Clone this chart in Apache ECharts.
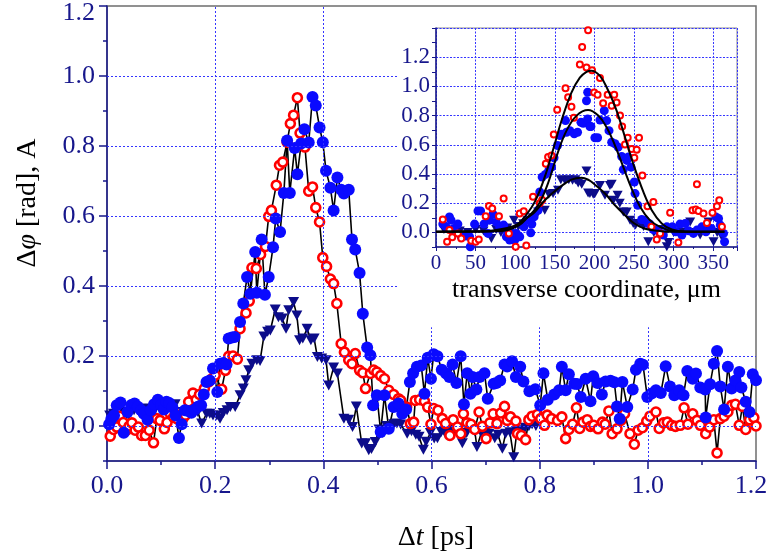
<!DOCTYPE html>
<html>
<head>
<meta charset="utf-8">
<script src="https://cdn.jsdelivr.net/npm/echarts@6/dist/echarts.min.js"></script>
<style>
html, body { margin: 0; padding: 0; background: #ffffff; }
#chart { width: 769px; height: 557px; }
</style>
</head>
<body>
<div id="chart"></div>
<script>
// ---- main panel: phase shift / amplitude vs delay ----
const delayTicks = [0.0, 0.2, 0.4, 0.6, 0.8, 1.0, 1.2];
const phaseTicks = [0.0, 0.2, 0.4, 0.6, 0.8, 1.0, 1.2];

// [delay ps, value] — open red circles
const redPoints = [[0.006,-0.029],[0.012,-0.01],[0.018,-0.003],[0.023,0.028],[0.03,0.01],[0.036,-0.012],[0.041,0.0],[0.046,0.009],[0.052,-0.012],[0.058,-0.003],[0.064,-0.027],[0.071,-0.027],[0.078,-0.012],[0.086,-0.048],[0.092,0.021],[0.098,0.016],[0.106,-0.008],[0.111,0.01],[0.117,0.035],[0.123,0.025],[0.129,0.021],[0.135,0.031],[0.14,0.02],[0.145,0.031],[0.151,0.069],[0.159,0.094],[0.165,0.075],[0.171,0.09],[0.18,0.107],[0.188,0.126],[0.194,0.135],[0.2,0.145],[0.212,0.105],[0.219,0.159],[0.225,0.199],[0.233,0.2],[0.241,0.191],[0.246,0.278],[0.257,0.323],[0.263,0.357],[0.268,0.452],[0.276,0.45],[0.284,0.49],[0.293,0.513],[0.299,0.599],[0.304,0.616],[0.313,0.688],[0.319,0.745],[0.325,0.754],[0.333,0.811],[0.339,0.864],[0.345,0.888],[0.352,0.938],[0.357,0.837],[0.366,0.797],[0.373,0.671],[0.38,0.683],[0.386,0.624],[0.393,0.583],[0.399,0.481],[0.406,0.456],[0.413,0.42],[0.419,0.407],[0.425,0.35],[0.433,0.235],[0.439,0.211],[0.447,0.188],[0.453,0.178],[0.459,0.207],[0.467,0.159],[0.473,0.152],[0.478,0.107],[0.487,0.15],[0.493,0.16],[0.499,0.154],[0.506,0.144],[0.513,0.135],[0.521,0.102],[0.53,0.09],[0.539,0.078],[0.543,0.073],[0.554,0.054],[0.561,0.007],[0.567,0.011],[0.57,0.073],[0.578,0.075],[0.587,0.071],[0.593,0.054],[0.599,0.005],[0.604,0.05],[0.612,0.045],[0.62,0.021],[0.626,0.007],[0.634,-0.027],[0.64,0.018],[0.648,-0.003],[0.654,-0.022],[0.659,0.035],[0.666,0.009],[0.673,0.005],[0.68,-0.01],[0.688,0.04],[0.694,-0.001],[0.701,-0.036],[0.708,0.009],[0.714,0.035],[0.721,0.007],[0.728,0.037],[0.735,0.056],[0.74,0.016],[0.746,0.026],[0.756,0.014],[0.759,-0.022],[0.766,-0.027],[0.774,-0.039],[0.78,0.018],[0.786,0.028],[0.796,0.033],[0.802,0.021],[0.809,0.002],[0.814,0.031],[0.822,0.021],[0.833,0.016],[0.841,0.026],[0.848,-0.036],[0.854,-0.01],[0.861,0.005],[0.868,0.052],[0.874,-0.007],[0.88,0.011],[0.888,0.018],[0.894,-0.001],[0.9,0.002],[0.908,-0.008],[0.916,0.011],[0.921,0.005],[0.928,0.043],[0.934,-0.022],[0.943,-0.008],[0.95,0.016],[0.957,0.035],[0.967,-0.022],[0.975,-0.052],[0.982,-0.012],[0.99,-0.005],[0.998,0.014],[1.004,0.028],[1.015,0.04],[1.021,-0.007],[1.029,0.009],[1.036,0.011],[1.044,0.002],[1.051,-0.001],[1.06,0.002],[1.067,0.052],[1.074,0.005],[1.083,0.035],[1.091,0.016],[1.097,0.002],[1.107,-0.022],[1.114,-0.003],[1.122,0.018],[1.128,-0.077],[1.134,0.021],[1.141,0.028],[1.148,0.04],[1.155,0.059],[1.162,0.062],[1.169,0.002],[1.175,0.056],[1.181,-0.01],[1.188,0.018],[1.196,0.024],[1.2,0.0]];

// [delay ps, value] — filled blue circles
const bluePoints = [[0.004,0.005],[0.008,0.02],[0.013,0.03],[0.018,0.059],[0.025,0.067],[0.031,-0.019],[0.038,0.04],[0.045,0.06],[0.051,0.064],[0.057,0.055],[0.063,0.045],[0.068,0.035],[0.075,0.018],[0.081,0.045],[0.087,0.062],[0.094,0.075],[0.1,0.06],[0.105,0.047],[0.11,0.069],[0.115,0.066],[0.121,0.053],[0.127,0.03],[0.133,-0.034],[0.138,0.005],[0.144,0.045],[0.15,0.043],[0.156,0.038],[0.162,0.047],[0.168,0.055],[0.174,0.059],[0.179,0.09],[0.184,0.126],[0.19,0.13],[0.196,0.164],[0.204,0.097],[0.209,0.178],[0.215,0.18],[0.221,0.176],[0.225,0.25],[0.231,0.253],[0.236,0.254],[0.246,0.297],[0.252,0.35],[0.259,0.426],[0.265,0.378],[0.274,0.497],[0.277,0.381],[0.286,0.533],[0.292,0.375],[0.299,0.426],[0.307,0.511],[0.312,0.593],[0.32,0.554],[0.327,0.666],[0.333,0.816],[0.338,0.666],[0.347,0.794],[0.352,0.719],[0.359,0.807],[0.365,0.848],[0.373,0.81],[0.38,0.94],[0.386,0.916],[0.393,0.853],[0.399,0.811],[0.405,0.729],[0.413,0.681],[0.419,0.616],[0.426,0.71],[0.433,0.675],[0.438,0.664],[0.447,0.675],[0.453,0.533],[0.459,0.504],[0.467,0.437],[0.473,0.321],[0.481,0.224],[0.487,0.202],[0.492,0.059],[0.499,0.088],[0.506,-0.017],[0.513,0.088],[0.521,-0.008],[0.53,0.054],[0.539,0.064],[0.546,0.035],[0.553,0.047],[0.56,0.126],[0.566,0.151],[0.573,0.169],[0.581,0.173],[0.587,0.092],[0.593,0.195],[0.599,0.135],[0.604,0.205],[0.611,0.199],[0.619,0.161],[0.627,0.15],[0.633,0.14],[0.639,0.176],[0.646,0.123],[0.654,0.199],[0.66,0.062],[0.666,0.151],[0.672,0.092],[0.676,0.14],[0.683,0.104],[0.689,0.14],[0.698,0.151],[0.704,0.078],[0.715,0.121],[0.72,0.123],[0.727,0.13],[0.735,0.176],[0.74,0.17],[0.749,0.185],[0.756,0.14],[0.764,0.169],[0.77,0.127],[0.781,0.099],[0.792,0.105],[0.801,0.059],[0.807,0.151],[0.815,0.075],[0.827,0.09],[0.836,0.102],[0.841,0.169],[0.848,0.102],[0.854,0.148],[0.864,0.121],[0.869,0.12],[0.876,0.083],[0.885,0.135],[0.894,0.071],[0.899,0.142],[0.907,0.123],[0.915,0.09],[0.922,0.127],[0.931,0.129],[0.938,0.125],[0.943,0.056],[0.948,0.021],[0.953,0.126],[0.962,0.054],[0.972,0.104],[0.978,0.161],[0.986,0.178],[0.991,0.175],[0.999,0.083],[1.007,0.093],[1.015,0.102],[1.024,0.094],[1.033,0.171],[1.041,0.113],[1.049,0.088],[1.058,0.102],[1.066,0.088],[1.073,0.157],[1.083,0.135],[1.089,0.15],[1.097,0.11],[1.106,0.104],[1.107,0.024],[1.115,0.119],[1.122,0.178],[1.128,0.214],[1.134,0.113],[1.141,0.047],[1.148,0.169],[1.155,0.107],[1.162,0.13],[1.169,0.154],[1.173,0.11],[1.181,0.069],[1.188,0.04],[1.194,0.148],[1.2,0.131]];

// [delay ps, value] — navy down-triangles
const navyPoints = [[0.005,0.03],[0.012,0.035],[0.02,0.02],[0.03,0.04],[0.04,0.03],[0.05,0.045],[0.06,0.04],[0.07,0.05],[0.08,0.04],[0.09,0.05],[0.1,0.045],[0.11,0.05],[0.12,0.055],[0.126,0.062],[0.13,0.021],[0.14,0.04],[0.15,0.03],[0.16,0.05],[0.168,0.04],[0.175,0.007],[0.184,0.035],[0.19,0.035],[0.196,0.03],[0.203,0.03],[0.209,0.021],[0.215,0.037],[0.222,0.045],[0.228,0.054],[0.237,0.054],[0.246,0.088],[0.252,0.107],[0.257,0.131],[0.262,0.159],[0.268,0.178],[0.277,0.188],[0.283,0.186],[0.29,0.256],[0.297,0.269],[0.302,0.273],[0.311,0.333],[0.317,0.311],[0.324,0.307],[0.331,0.278],[0.336,0.331],[0.345,0.354],[0.351,0.316],[0.356,0.245],[0.362,0.25],[0.37,0.278],[0.377,0.245],[0.383,0.25],[0.389,0.197],[0.397,0.193],[0.405,0.188],[0.41,0.116],[0.419,0.167],[0.426,0.15],[0.438,0.021],[0.447,0.018],[0.454,-0.003],[0.461,0.056],[0.471,-0.05],[0.478,-0.049],[0.484,-0.069],[0.489,-0.066],[0.496,-0.046],[0.503,-0.01],[0.51,-0.02],[0.517,0.0],[0.525,-0.005],[0.53,0.005],[0.536,0.007],[0.543,0.004],[0.555,-0.022],[0.563,-0.015],[0.571,-0.025],[0.577,-0.031],[0.585,-0.068],[0.59,-0.045],[0.598,-0.02],[0.605,-0.036],[0.611,-0.035],[0.618,-0.017],[0.625,-0.02],[0.633,-0.017],[0.641,-0.012],[0.648,-0.02],[0.657,-0.049],[0.665,-0.02],[0.673,-0.005],[0.68,-0.015],[0.684,-0.06],[0.692,-0.02],[0.7,-0.015],[0.706,-0.022],[0.717,-0.035],[0.723,-0.025],[0.731,-0.065],[0.737,-0.022],[0.745,-0.018],[0.752,-0.089],[0.758,-0.015],[0.766,-0.012],[0.773,-0.005],[0.78,-0.001],[0.786,0.005],[0.793,0.0]];

// ---- inset: transverse profiles ----
const profileTicks = [0, 50, 100, 150, 200, 250, 300, 350];
const profileValueTicks = [0.0, 0.2, 0.4, 0.6, 0.8, 1.0, 1.2];

// [µm, value]
const redProfile = [[8.6,0.089],[14,-0.064],[17,0.016],[20.5,-0.034],[27.6,-0.007],[31.9,-0.041],[44.5,-0.057],[50,-0.064],[54,-0.048],[62.7,0.111],[66.9,0.18],[71,0.164],[79.5,0.111],[85.4,0.232],[92,-0.007],[100.6,-0.098],[105.7,0.13],[110.8,0.145],[114,-0.09],[122.5,0.245],[131,0.2],[134,0.222],[138.6,0.47],[141.5,0.516],[145.8,0.527],[148.7,0.67],[153,0.84],[163.5,0.988],[166.8,0.926],[171,0.861],[174,0.786],[181.6,1.15],[184.5,1.27],[190,1.13],[192,1.384],[197,1.11],[199.7,0.958],[204,0.943],[207,1.057],[211,0.884],[216.7,0.943],[221.8,0.868],[225,0.943],[228,0.89],[232.3,0.8],[235,0.725],[238.6,0.602],[242,0.648],[247,0.572],[250.4,0.511],[253.4,0.566],[256.3,0.648],[260.5,0.39],[267,0.179],[272,0.038],[274.4,0.209],[278.7,-0.048],[283,-0.007],[295.6,0.134],[306,-0.07],[323.8,0.152],[328,0.157],[329.4,0.329],[331.4,0.147],[337.7,0.13],[342,0.065],[349,0.134],[354.7,0.179],[357.6,0.22],[361,0.038]];

const blueProfile = [[8.6,0.057],[12.9,0.038],[17,0.106],[19,0.084],[22.5,0.027],[27.6,0.057],[31.9,-0.03],[37,-0.025],[42.4,-0.03],[43.3,-0.098],[48.7,0.057],[53,0.147],[56.3,0.147],[60.5,0.057],[65.6,-0.007],[67.7,0.084],[71.9,0.125],[76,0.07],[80.4,0.038],[85.4,0.05],[88.9,-0.03],[90.9,-0.007],[93,-0.052],[97.2,-0.007],[99.4,-0.052],[101.5,-0.007],[105.7,-0.03],[111,0.038],[114,0.084],[119.6,-0.003],[121,0.057],[123.8,0.106],[128.9,0.152],[131,0.277],[134,0.379],[138.2,0.397],[142.4,0.425],[145.8,0.447],[149,0.511],[153.4,0.595],[156.3,0.663],[158.4,0.672],[163.5,0.766],[164.8,0.686],[169,0.697],[174.5,0.675],[178.7,0.686],[183,0.754],[185.8,0.747],[190,0.902],[191.4,0.777],[191.5,0.96],[194.3,0.725],[195.6,0.725],[200.6,0.648],[204,0.648],[207,0.77],[212.4,0.834],[215.4,0.766],[218.4,0.697],[221.8,0.618],[226,0.607],[230,0.584],[234.4,0.52],[236.5,0.43],[240.8,0.493],[242.8,0.516],[246.2,0.447],[250.4,0.345],[251.3,0.266],[254.7,0.186],[259.7,0.088],[264,0.084],[268,0.061],[270,0.057],[274.4,0.02],[278.7,0.016],[283,-0.007],[287,-0.018],[291.4,0.038],[298.5,0.038],[302.8,0.004],[308,0.057],[310.4,-0.018],[314.6,0.061],[318.7,0.011],[325,-0.007],[329.4,0.016],[335.7,0.038],[340.8,0.004],[347.5,0.027],[353.4,0.106],[356.7,0.095],[358.9,0.05],[363,-0.007],[364.3,-0.064]];

const navyProfile = [[10,0.02],[20,0.0],[30,0.01],[40,0.0],[50,0.02],[60,0.01],[69.9,-0.041],[76,0.02],[82,0.0],[90,0.03],[98.5,0.084],[104,0.04],[110,0.06],[116,0.084],[122,0.1],[128.9,0.14],[137.3,0.152],[142.4,0.261],[147.8,0.266],[154,0.288],[157.6,0.361],[162.7,0.357],[167.7,0.361],[172.4,0.357],[176,0.36],[179.5,0.338],[184,0.33],[190,0.42],[192,0.27],[194.3,0.266],[198.5,0.261],[200.6,0.266],[207,0.322],[213.3,0.254],[219.6,0.322],[221.8,0.329],[223.8,0.22],[229.3,0.254],[232,0.2],[236.5,0.14],[240.8,0.14],[245,0.084],[249,0.061],[252,0.05],[257.6,0.061],[262,0.04],[268,-0.064],[275,0.0],[283,0.02],[291.4,-0.098],[293.4,-0.07],[300,0.0],[310,0.0],[320.9,0.072],[327,0.0],[333.5,-0.018],[338,0.02],[344,0.072],[350.4,-0.064],[355,0.0],[361,-0.03]];

// fitted profile curves, read point by point
const fitHigh = [[0,0.005],[50,0.006],[80,0.01],[91,0.016],[103.5,0.057],[112,0.106],[124.7,0.209],[137.3,0.38],[150,0.607],[158.5,0.766],[171,0.958],[181.6,1.06],[190,1.1],[196,1.108],[207,1.072],[217.5,0.97],[228,0.834],[238.6,0.652],[249,0.47],[261.8,0.277],[272.4,0.152],[285,0.061],[297.7,0.02],[314.6,0.006],[364,0.004]];
const fitMid = [[0,0.005],[60,0.006],[90,0.018],[105,0.05],[115,0.1],[128.9,0.186],[141.5,0.338],[154,0.55],[164.8,0.697],[177.5,0.8],[192,0.838],[204.8,0.8],[215.4,0.72],[226,0.595],[236.5,0.447],[247,0.3],[257.6,0.175],[270,0.084],[283,0.038],[297.7,0.01],[320,0.005],[364,0.004]];
const fitLow = [[0,0.005],[60,0.008],[90,0.03],[105,0.06],[115,0.1],[124.7,0.14],[137.3,0.22],[154,0.3],[171,0.361],[183.8,0.375],[193,0.358],[201,0.325],[213.3,0.266],[226,0.186],[238.6,0.118],[250.4,0.061],[263,0.027],[280.8,0.011],[297.7,0.004],[364,0.004]];

const SERIF = '"Liberation Serif", "DejaVu Serif", serif';
const NAVY = '#17178c';
const GRIDBLUE = '#3434ff';
const FRAME = '#6e6e6e';

// plot rectangles
const MAIN = { left: 107, top: 6, width: 649, height: 455 };
const INSET = { left: 436, top: 28, width: 301, height: 219 };
// where the inset block starts, in main-panel units (its left edge and lower edge)
const insetBlockDelay = 0.539;
const insetBlockPhase = 0.282;

const chart = echarts.init(document.getElementById('chart'), null, { renderer: 'canvas' });

function tenths(v) { return Math.round(v * 10); }

// the end labels of the main axes sit a little inside the frame
function delayLabel(v) {
  const k = delayTicks.findIndex(t => Math.abs(t - v) < 1e-6);
  if (k < 0) return '';
  return k === delayTicks.length - 1 ? '{edge|' + delayTicks[k].toFixed(1) + '}' : delayTicks[k].toFixed(1);
}
function phaseLabel(v) {
  const k = phaseTicks.findIndex(t => Math.abs(t - v) < 1e-6);
  if (k < 0) return '';
  return k === phaseTicks.length - 1 ? '{edge|' + phaseTicks[k].toFixed(1) + '}' : phaseTicks[k].toFixed(1);
}
function profileValueLabel(v) {
  const k = profileValueTicks.findIndex(t => Math.abs(t - v) < 1e-6);
  return k < 0 ? '' : profileValueTicks[k].toFixed(1);
}

// main-panel grid lines, stopped where the inset block sits
const yMin = -0.1;
const gridSegments = [];
delayTicks.slice(1, -1).forEach(t => {
  const top = t < insetBlockDelay ? phaseTicks[phaseTicks.length - 1] : insetBlockPhase;
  gridSegments.push([{ coord: [t, yMin] }, { coord: [t, top] }]);
});
phaseTicks.slice(0, -1).forEach(v => {
  const right = v < insetBlockPhase ? delayTicks[delayTicks.length - 1] : insetBlockDelay;
  gridSegments.push([{ coord: [0, v] }, { coord: [right, v] }]);
});

const option = {
  animation: false,
  backgroundColor: '#ffffff',
  grid: [
    Object.assign({ outerBoundsMode: 'none', containLabel: false, show: true, borderColor: FRAME,
      borderWidth: 1.5, backgroundColor: 'transparent' }, MAIN),
    Object.assign({ outerBoundsMode: 'none', containLabel: false, show: true, borderColor: '#8c8c8c',
      borderWidth: 1, backgroundColor: 'transparent', z: 3 }, INSET)
  ],
  xAxis: [
    {
      gridIndex: 0, type: 'value', min: 0, max: 1.2, interval: 0.2,
      axisLine: { onZero: false, lineStyle: { color: NAVY, width: 1.5 } },
      axisTick: { length: 8, lineStyle: { color: NAVY, width: 1.5 } },
      minorTick: { show: true, splitNumber: 2, length: 4, lineStyle: { color: NAVY, width: 1.5 } },
      axisLabel: { margin: 12, color: NAVY, fontFamily: SERIF, fontSize: 26, formatter: delayLabel,
        rich: { edge: { color: NAVY, fontFamily: SERIF, fontSize: 26, padding: [0, 10, 0, 0] } } },
      splitLine: { show: false }
    },
    {
      gridIndex: 1, type: 'value', min: 0, max: 380, interval: 50, z: 3,
      axisLine: { onZero: false, lineStyle: { color: NAVY, width: 1.5 } },
      axisTick: { length: 4, lineStyle: { color: NAVY, width: 1 } },
      minorTick: { show: true, splitNumber: 2, length: 2, lineStyle: { color: NAVY, width: 1 } },
      axisLabel: { margin: 6, color: NAVY, fontFamily: SERIF, fontSize: 21, showMaxLabel: false,
        formatter: v => profileTicks.indexOf(v) >= 0 ? String(v) : '' },
      splitLine: { show: true, lineStyle: { color: GRIDBLUE, width: 1, type: [2, 1.5] } },
      name: 'transverse coordinate, \u03bcm', nameLocation: 'middle', nameGap: 30,
      nameTextStyle: { color: '#000000', fontFamily: SERIF, fontSize: 26 }
    }
  ],
  yAxis: [
    {
      gridIndex: 0, type: 'value', min: yMin, max: 1.2, interval: 0.1,
      axisLine: { onZero: false, lineStyle: { color: NAVY, width: 1.5 } },
      axisTick: { length: 8, customValues: phaseTicks, lineStyle: { color: NAVY, width: 1.5 } },
      axisLabel: { margin: 12, color: NAVY, fontFamily: SERIF, fontSize: 26, formatter: phaseLabel,
        rich: { edge: { color: NAVY, fontFamily: SERIF, fontSize: 26, padding: [14, 0, 0, 0] } } },
      splitLine: { show: false }
    },
    {
      // short ticks every 0.1 on the left edge
      gridIndex: 0, type: 'value', min: yMin, max: 1.2, interval: 0.1, position: 'left',
      axisLine: { show: false },
      axisTick: { length: 4, lineStyle: { color: NAVY, width: 1.5 } },
      axisLabel: { show: false },
      splitLine: { show: false }
    },
    {
      gridIndex: 1, type: 'value', min: -0.1, max: 1.4, interval: 0.1, z: 3,
      axisLine: { onZero: false, lineStyle: { color: NAVY, width: 1.5 } },
      axisTick: { length: 4, lineStyle: { color: NAVY, width: 1 } },
      axisLabel: { margin: 6, color: NAVY, fontFamily: SERIF, fontSize: 23, formatter: profileValueLabel },
      splitLine: { show: true, lineStyle: { color: ['rgba(0,0,0,0)', GRIDBLUE], width: 1, type: [2, 1.5] } }
    }
  ],
  graphic: {
    elements: [
      { id: 'xTitle', type: 'text', z: 10, x: 436, y: 538, silent: true,
        style: { text: '{n|\u0394}{i|t}{n| [ps]}', align: 'center', verticalAlign: 'middle',
          rich: { n: { fontFamily: SERIF, fontSize: 28, fill: '#000' }, i: { fontFamily: SERIF, fontSize: 28, fontStyle: 'italic', fill: '#000' } } } },
      { id: 'yTitle', type: 'text', z: 10, x: 28, y: 203, rotation: Math.PI / 2, silent: true,
        style: { text: '{n|\u0394}{i|\u03c6}{n| [rad], A}', align: 'center', verticalAlign: 'middle',
          rich: { n: { fontFamily: SERIF, fontSize: 28, fill: '#000' }, i: { fontFamily: SERIF, fontSize: 28, fontStyle: 'italic', fill: '#000' } } } }
    ]
  },
  series: [
    // dotted grid of the main panel
    { type: 'line', xAxisIndex: 0, yAxisIndex: 0, data: [], z: 1, silent: true,
      markLine: { silent: true, animation: false, symbol: ['none', 'none'], label: { show: false },
        lineStyle: { color: GRIDBLUE, width: 1, type: [2, 2] }, emphasis: { disabled: true },
        data: gridSegments } },
    // connecting lines, main panel
    { type: 'line', xAxisIndex: 0, yAxisIndex: 0, data: navyPoints, showSymbol: false, z: 2, lineStyle: { color: '#000', width: 1.6 }, silent: true },
    { type: 'line', xAxisIndex: 0, yAxisIndex: 0, data: bluePoints, showSymbol: false, z: 2, lineStyle: { color: '#000', width: 1.6 }, silent: true },
    { type: 'line', xAxisIndex: 0, yAxisIndex: 0, data: redPoints, showSymbol: false, z: 2, lineStyle: { color: '#000', width: 1.6 }, silent: true },
    // markers, main panel
    { type: 'scatter', xAxisIndex: 0, yAxisIndex: 0, data: navyPoints, z: 3, symbol: 'triangle', symbolRotate: 180, symbolSize: [11, 10], itemStyle: { color: '#0c0c8a', opacity: 1 } },
    { type: 'scatter', xAxisIndex: 0, yAxisIndex: 0, data: redPoints, z: 3, symbol: 'circle', symbolSize: 9, itemStyle: { color: '#ffffff', borderColor: '#ff0000', borderWidth: 2.6, opacity: 1 } },
    { type: 'scatter', xAxisIndex: 0, yAxisIndex: 1, data: bluePoints, z: 3, symbol: 'circle', symbolSize: 12, itemStyle: { color: '#0a0aff', opacity: 1 } },
    // inset markers
    { type: 'scatter', xAxisIndex: 1, yAxisIndex: 2, data: navyProfile, z: 5, symbol: 'triangle', symbolRotate: 180, symbolSize: [10, 9], itemStyle: { color: '#0c0c8a', opacity: 1 } },
    { type: 'scatter', xAxisIndex: 1, yAxisIndex: 2, data: blueProfile, z: 5, symbol: 'circle', symbolSize: 9, itemStyle: { color: '#0a0aff', opacity: 1 } },
    { type: 'scatter', xAxisIndex: 1, yAxisIndex: 2, data: redProfile, z: 5, symbol: 'circle', symbolSize: 6, itemStyle: { color: '#ffffff', borderColor: '#ff0000', borderWidth: 2, opacity: 1 } },
    // inset fitted curves
    { type: 'line', xAxisIndex: 1, yAxisIndex: 2, data: fitHigh, smooth: 0.4, showSymbol: false, z: 6, lineStyle: { color: '#000', width: 2 }, silent: true },
    { type: 'line', xAxisIndex: 1, yAxisIndex: 2, data: fitMid, smooth: 0.4, showSymbol: false, z: 6, lineStyle: { color: '#000', width: 2 }, silent: true },
    { type: 'line', xAxisIndex: 1, yAxisIndex: 2, data: fitLow, smooth: 0.4, showSymbol: false, z: 6, lineStyle: { color: '#000', width: 2 }, silent: true }
  ]
};

chart.setOption(option);
</script>
</body>
</html>
